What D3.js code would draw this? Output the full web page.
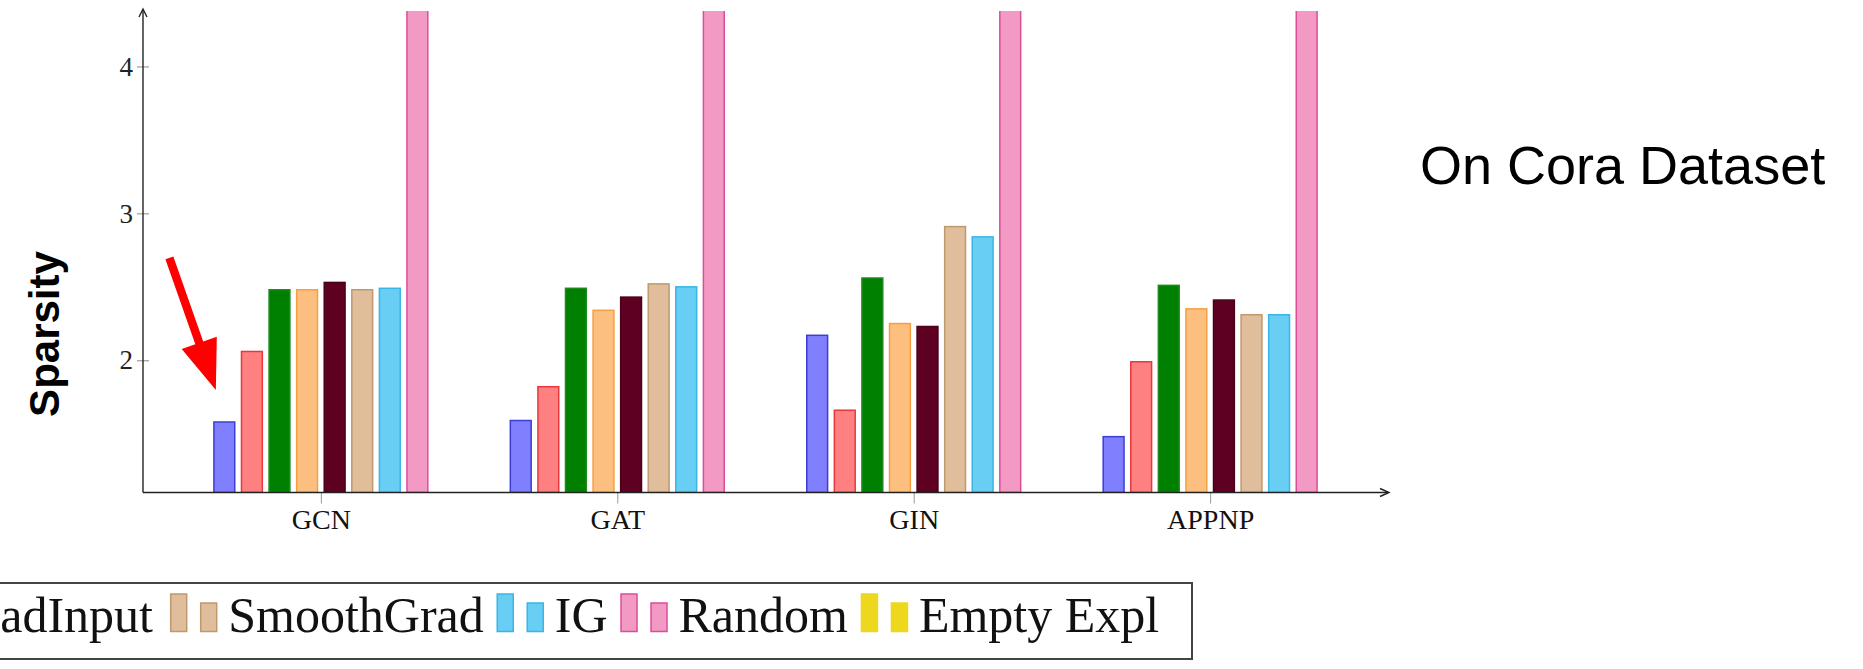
<!DOCTYPE html>
<html>
<head>
<meta charset="utf-8">
<script src="https://cdn.jsdelivr.net/npm/d3@7"></script>
<style>
  html, body { margin: 0; padding: 0; background: #fff; overflow: hidden; }
  svg { display: block; }
</style>
</head>
<body>
<script>
(function () {
  'use strict';

  // categories on the x axis
  const categories = ['GCN', 'GAT', 'GIN', 'APPNP'];

  // bar series, one value per category (Random bars run past the top of the axis)
  const seriesBlue   = [1.58, 1.59, 2.17, 1.48];
  const seriesRed    = [2.06, 1.82, 1.66, 1.99];
  const seriesGreen  = [2.48, 2.49, 2.56, 2.51];
  const seriesOrange = [2.48, 2.34, 2.25, 2.35];
  const gradInput    = [2.53, 2.43, 2.23, 2.41];
  const smoothGrad   = [2.48, 2.52, 2.91, 2.31];
  const ig           = [2.49, 2.50, 2.84, 2.31];
  const random       = [4.40, 4.40, 4.40, 4.40];

  const yTicks = [2, 3, 4];

  // visible legend entries (earlier entries are cut off on the left)
  const legendLabels = ['GradInput', 'SmoothGrad', 'IG', 'Random', 'Empty Expl'];

  const series = [seriesBlue, seriesRed, seriesGreen, seriesOrange, gradInput, smoothGrad, ig, random];
  const fills   = ['#8080ff', '#ff8080', '#008000', '#fdbf7f', '#5e0021', '#e0be9c', '#68cef4', '#f29ac4', '#eed81e'];
  const strokes = ['#3c3cd6', '#e8383c', '#1e8a1e', '#f5a040', '#4a0018', '#c0986e', '#3bb5e5', '#dc4c9a', '#eed81e'];
  const legendColorIdx = [4, 5, 6, 7, 8];

  const W = 1863, H = 669;
  const serif = '"Liberation Serif", "Times New Roman", serif';
  const sans = '"Liberation Sans", Arial, sans-serif';

  const svg = d3.select('body')
    .append('svg')
    .attr('width', W)
    .attr('height', H);

  const axisLeftX = 143, axisRightX = 1388;
  const plotTop = 11;

  const xScale = d3.scalePoint()
    .domain(categories)
    .range([axisLeftX, axisRightX])
    .padding(0.6);

  const inner = d3.scaleBand()
    .domain(d3.range(series.length))
    .range([-107.7, 107.7])
    .paddingInner(0.19)
    .paddingOuter(0);

  const yScale = d3.scaleLinear()
    .domain([1.1, 4.4])
    .range([492.5, 7.7]);

  const baseY = yScale(1.1);

  svg.append('defs').append('clipPath')
    .attr('id', 'plot-clip')
    .append('rect')
    .attr('x', axisLeftX)
    .attr('y', plotTop)
    .attr('width', axisRightX - axisLeftX)
    .attr('height', baseY - plotTop);

  // bars
  const bars = svg.append('g').attr('clip-path', 'url(#plot-clip)');
  series.forEach((vals, si) => {
    bars.append('g').selectAll('rect')
      .data(vals)
      .enter()
      .append('rect')
      .attr('x', (d, i) => xScale(categories[i]) + inner(si) + 0.75)
      .attr('y', d => yScale(d))
      .attr('width', inner.bandwidth() - 1.5)
      .attr('height', d => baseY - yScale(d))
      .attr('fill', fills[si])
      .attr('stroke', strokes[si])
      .attr('stroke-width', 1.5);
  });

  // x axis
  const xAxis = d3.axisBottom(xScale).tickSize(11).tickPadding(5);
  const gx = svg.append('g')
    .attr('transform', `translate(0,${baseY})`)
    .call(xAxis);
  gx.select('.domain').remove();
  gx.selectAll('.tick line').attr('stroke', '#999').attr('stroke-width', 1);
  gx.selectAll('.tick text')
    .attr('font-family', serif)
    .attr('font-size', 28)
    .attr('fill', '#111')
    .attr('dy', null)
    .attr('y', 36);

  // y axis
  const yAxis = d3.axisLeft(yScale).tickValues(yTicks).tickSize(6).tickPadding(4)
    .tickFormat(d3.format('d'));
  const gy = svg.append('g')
    .attr('transform', `translate(${axisLeftX},0)`)
    .call(yAxis);
  gy.select('.domain').remove();
  gy.selectAll('.tick line').attr('x1', 6).attr('x2', -6).attr('stroke', '#888');
  gy.selectAll('.tick text')
    .attr('font-family', serif)
    .attr('font-size', 27)
    .attr('fill', '#222')
    .attr('dy', '0.32em')
    .attr('x', -10);

  // axis lines with arrow tips
  const axisCol = '#222';
  svg.append('line')
    .attr('x1', axisLeftX).attr('y1', baseY)
    .attr('x2', axisLeftX).attr('y2', plotTop - 1)
    .attr('stroke', axisCol).attr('stroke-width', 1.4);
  svg.append('path')
    .attr('d', `M${axisLeftX - 4},${plotTop + 6} L${axisLeftX},${plotTop - 2} L${axisLeftX + 4},${plotTop + 6}`)
    .attr('fill', 'none').attr('stroke', axisCol).attr('stroke-width', 1.4);
  svg.append('line')
    .attr('x1', axisLeftX).attr('y1', baseY)
    .attr('x2', axisRightX).attr('y2', baseY)
    .attr('stroke', axisCol).attr('stroke-width', 1.4);
  svg.append('path')
    .attr('d', `M${axisRightX - 8},${baseY - 4} L${axisRightX + 1},${baseY} L${axisRightX - 8},${baseY + 4}`)
    .attr('fill', 'none').attr('stroke', axisCol).attr('stroke-width', 1.4);

  // y label
  svg.append('text')
    .attr('transform', 'translate(58.5,334) rotate(-90)')
    .attr('text-anchor', 'middle')
    .attr('font-family', sans)
    .attr('font-weight', 'bold')
    .attr('font-size', 42)
    .attr('fill', '#000')
    .text('Sparsity');

  // red annotation arrow pointing at the first GCN bar
  const tipX = xScale(categories[0]) + inner(0) + 2.7;
  const tipY = yScale(seriesBlue[0]) - 32;
  const ux = 0.332, uy = 0.943, nx = -uy, ny = ux;
  const len = 140, headLen = 50, shaftW = 4.2, headW = 18.6;
  const bx = tipX - ux * headLen, by = tipY - uy * headLen;
  const tx = tipX - ux * len, ty = tipY - uy * len;
  const pts = [
    [tx + nx * shaftW, ty + ny * shaftW],
    [bx + nx * shaftW, by + ny * shaftW],
    [bx + nx * headW, by + ny * headW],
    [tipX, tipY],
    [bx - nx * headW, by - ny * headW],
    [bx - nx * shaftW, by - ny * shaftW],
    [tx - nx * shaftW, ty - ny * shaftW]
  ];
  svg.append('path')
    .attr('d', d3.line()(pts) + 'Z')
    .attr('fill', '#ff0000');

  // title text on the right
  svg.append('text')
    .attr('x', 1420)
    .attr('y', 184)
    .attr('font-family', sans)
    .attr('font-size', 54)
    .attr('fill', '#000')
    .text('On Cora Dataset');

  // legend (left part runs off the page)
  const legTop = 583, legBottom = 659, legRight = 1192;
  const legend = svg.append('g');
  legend.append('rect')
    .attr('x', -60)
    .attr('y', legTop)
    .attr('width', legRight + 60)
    .attr('height', legBottom - legTop)
    .attr('fill', '#fff')
    .attr('stroke', '#444')
    .attr('stroke-width', 2);

  const textBase = 631.5;
  const fontSize = 50;

  function swatches(x, ci) {
    legend.append('rect')
      .attr('x', x).attr('y', 594)
      .attr('width', 16).attr('height', textBase - 594)
      .attr('fill', fills[ci]).attr('stroke', strokes[ci]).attr('stroke-width', 1.5);
    legend.append('rect')
      .attr('x', x + 30).attr('y', 603)
      .attr('width', 16).attr('height', textBase - 603)
      .attr('fill', fills[ci]).attr('stroke', strokes[ci]).attr('stroke-width', 1.5);
  }

  // first visible entry: only its tail shows at the page edge, as in the original
  const firstEnd = 153;
  const first = legend.append('text')
    .attr('x', firstEnd)
    .attr('y', textBase)
    .attr('text-anchor', 'end')
    .attr('font-family', serif)
    .attr('font-size', fontSize)
    .attr('fill', '#111')
    .text(legendLabels[0]);
  const firstStart = firstEnd - first.node().getComputedTextLength();
  swatches(firstStart - 57.5, legendColorIdx[0]);

  let cursor = 170.7;
  for (let k = 1; k < legendLabels.length; k++) {
    swatches(cursor, legendColorIdx[k]);
    const t = legend.append('text')
      .attr('x', cursor + 57.5)
      .attr('y', textBase)
      .attr('font-family', serif)
      .attr('font-size', fontSize)
      .attr('fill', '#111')
      .text(legendLabels[k]);
    cursor = cursor + 57.5 + t.node().getComputedTextLength() + 13.5;
  }
})();
</script>
</body>
</html>
